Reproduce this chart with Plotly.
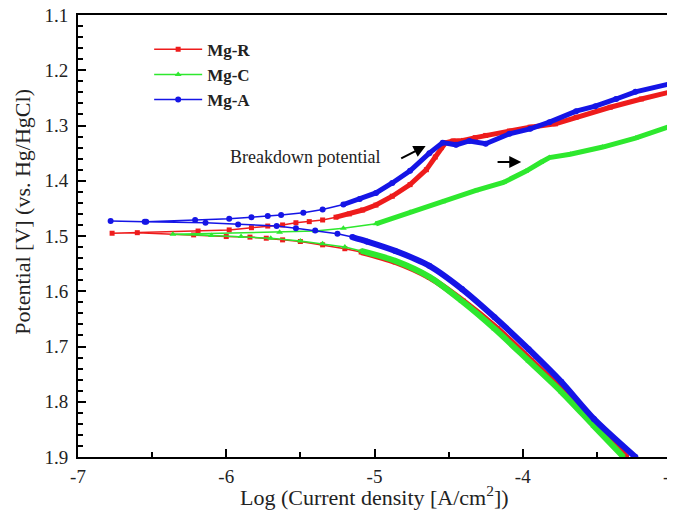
import plotly.graph_objects as go

# ---- data (log current density, potential) ----
# cathodic branches, listed from Ecorr outward
red_cat_x = [-6.77, -6.60, -6.22, -6.00, -5.84, -5.73, -5.62, -5.50, -5.35, -5.20, -5.09,
             -4.86, -4.63, -4.40, -4.17, -3.94, -3.72, -3.50, -3.30]
red_cat_y = [1.495, 1.494, 1.498, 1.501, 1.502, 1.504, 1.507, 1.510, 1.516, 1.523, 1.529,
             1.547, 1.575, 1.618, 1.668, 1.726, 1.782, 1.844, 1.900]
red_an_x = [-6.77, -6.19, -5.98, -5.83, -5.72, -5.62, -5.53, -5.44, -5.35, -5.26, -5.17, -5.08,
            -4.99, -4.88, -4.76, -4.65, -4.59, -4.55, -4.52, -4.47, -4.40, -4.32, -4.25, -4.09,
            -3.95, -3.78, -3.64, -3.41, -3.20, -3.00]
red_an_y = [1.495, 1.491, 1.489, 1.485, 1.482, 1.480, 1.476, 1.474, 1.471, 1.466, 1.460, 1.453,
            1.444, 1.428, 1.407, 1.380, 1.357, 1.340, 1.331, 1.328, 1.327, 1.322, 1.318, 1.310,
            1.303, 1.297, 1.285, 1.267, 1.252, 1.239]

green_cat_x = [-6.36, -6.10, -5.90, -5.70, -5.50, -5.35, -5.20, -5.09, -4.86, -4.63, -4.41,
               -4.19, -3.96, -3.74, -3.52, -3.32]
green_cat_y = [1.497, 1.499, 1.501, 1.504, 1.509, 1.514, 1.520, 1.527, 1.545, 1.574, 1.618,
               1.668, 1.726, 1.782, 1.844, 1.900]
green_an_x = [-6.36, -5.64, -5.40, -5.21, -4.99, -4.76, -4.54, -4.32, -4.13, -3.98, -3.88, -3.82,
              -3.68, -3.46, -3.24, -3.00]
green_an_y = [1.497, 1.493, 1.491, 1.486, 1.478, 1.457, 1.438, 1.418, 1.403, 1.383, 1.367, 1.358,
              1.352, 1.339, 1.323, 1.301]

blue_cat_x = [-6.78, -6.55, -6.14, -5.92, -5.66, -5.53, -5.40, -5.25, -5.15, -5.05, -4.86,
              -4.63, -4.41, -4.19, -3.96, -3.74, -3.52, -3.24]
blue_cat_y = [1.473, 1.474, 1.476, 1.479, 1.482, 1.486, 1.490, 1.496, 1.502, 1.510, 1.527,
              1.554, 1.596, 1.647, 1.705, 1.764, 1.831, 1.900]
blue_an_x = [-6.78, -6.54, -6.21, -5.98, -5.83, -5.72, -5.63, -5.48, -5.35, -5.21, -5.10, -4.99,
             -4.88, -4.76, -4.63, -4.54, -4.45, -4.36, -4.25, -4.09, -3.95, -3.82, -3.64, -3.51,
             -3.37, -3.24, -3.00]
blue_an_y = [1.473, 1.474, 1.471, 1.469, 1.466, 1.464, 1.462, 1.458, 1.452, 1.443, 1.433, 1.422,
             1.404, 1.382, 1.350, 1.331, 1.335, 1.328, 1.333, 1.315, 1.306, 1.294, 1.274, 1.265,
             1.252, 1.239, 1.224]

x_ticks = [-7, -6, -5, -4, -3]
y_ticks = [1.1, 1.2, 1.3, 1.4, 1.5, 1.6, 1.7, 1.8, 1.9]

series = [
    ("Mg-R", "#ee1c1c", "square", 5, red_cat_x, red_cat_y, red_an_x, red_an_y, -5.15, -5.3, 5),
    ("Mg-C", "#2ee82e", "triangle-up", 6, green_cat_x, green_cat_y, green_an_x, green_an_y, -5.15, -5.0, 5),
    ("Mg-A", "#1515e6", "circle", 6, blue_cat_x, blue_cat_y, blue_an_x, blue_an_y, -5.15, -5.25, 5),
]

fig = go.Figure()
for name, col, sym, ms, cx, cy, ax, ay, cthr, athr, aw in series:
    # portions where the reference markers are packed solid, drawn as a ribbon
    rcx = [x for x in cx if x >= cthr]
    rcy = [y for x, y in zip(cx, cy) if x >= cthr]
    rax = [x for x in ax if x >= athr]
    ray = [y for x, y in zip(ax, ay) if x >= athr]
    fig.add_trace(go.Scatter(x=rcx, y=rcy, mode="lines",
                             line=dict(color=col, width=6, shape="spline", smoothing=0.8),
                             showlegend=False, hoverinfo="skip"))
    fig.add_trace(go.Scatter(x=rax, y=ray, mode="lines", line=dict(color=col, width=aw),
                             showlegend=False, hoverinfo="skip"))
    fx = cx[::-1] + ax[1:]
    fy = cy[::-1] + ay[1:]
    fig.add_trace(go.Scatter(x=fx, y=fy, mode="lines+markers", name=name,
                             line=dict(color=col, width=1.5),
                             marker=dict(symbol=sym, size=ms, color=col, line=dict(width=0))))

serif = "Liberation Serif"
axis_font = dict(family=serif, size=19, color="#222")
title_font = dict(family=serif, size=22, color="#222")
fig.update_xaxes(range=[-7, -3], tickvals=x_ticks, ticktext=[str(v) for v in x_ticks],
                 ticks="inside", ticklen=8, tickwidth=2, tickcolor="black", ticklabelstandoff=1,
                 ticklabeloverflow="allow",
                 minor=dict(dtick=0.5, ticks="inside", ticklen=5, tickwidth=2, tickcolor="black"),
                 showline=True, linecolor="black", linewidth=2, mirror=True, automargin=False,
                 showgrid=False, zeroline=False, tickfont=axis_font)
fig.update_yaxes(range=[1.9, 1.1], tickvals=y_ticks, ticktext=["%.1f" % v for v in y_ticks],
                 ticks="inside", ticklen=8, tickwidth=2, tickcolor="black", ticklabelstandoff=4,
                 ticklabeloverflow="allow",
                 minor=dict(dtick=0.02, tick0=1.1, ticks="inside", ticklen=5, tickwidth=2, tickcolor="black"),
                 showline=True, linecolor="black", linewidth=2, mirror=True, automargin=False,
                 showgrid=False, zeroline=False, tickfont=axis_font)

# axis titles
fig.add_annotation(xref="paper", yref="paper", x=0.5, y=0, yanchor="middle", yshift=-39,
                   text="Log (Current density [A/cm<sup>2</sup>])", showarrow=False, font=title_font)
fig.add_annotation(xref="paper", yref="paper", x=0, y=0.555, xanchor="center", yanchor="middle",
                   xshift=-55, textangle=-90,
                   text="Potential [V] (vs. Hg/HgCl)", showarrow=False, font=title_font)

fig.add_annotation(x=-5.47, y=1.357, text="Breakdown potential", showarrow=False,
                   font=dict(family=serif, size=18, color="#222"))
fig.add_annotation(x=-4.655, y=1.337, ax=-4.83, ay=1.361, axref="x", ayref="y",
                   showarrow=True, arrowhead=2, arrowsize=1.2, arrowwidth=2, arrowcolor="black", text="")
fig.add_annotation(x=-4.01, y=1.366, ax=-4.18, ay=1.366, axref="x", ayref="y",
                   showarrow=True, arrowhead=2, arrowsize=1.2, arrowwidth=2, arrowcolor="black", text="")

fig.update_layout(width=675, height=518, margin=dict(l=70, r=12, t=7, b=69),
                  plot_bgcolor="white", paper_bgcolor="white",
                  legend=dict(x=0.12, y=0.962, xanchor="left", yanchor="top", bgcolor="rgba(0,0,0,0)",
                              font=dict(family=serif, size=17, color="#222", weight="bold"),
                              itemwidth=48))
fig.write_html("out.html")
